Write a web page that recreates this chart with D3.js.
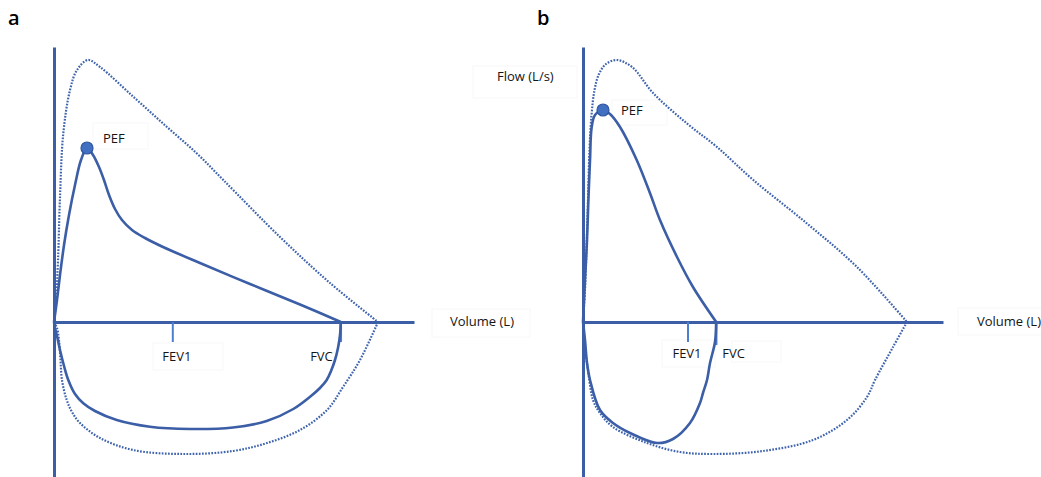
<!DOCTYPE html>
<html>
<head>
<meta charset="utf-8">
<script src="https://cdn.jsdelivr.net/npm/d3@7"></script>
<style>
  html, body { margin: 0; padding: 0; background: #ffffff; }
  svg { display: block; font-family: "Open Sans", "Noto Sans", sans-serif; }
</style>
</head>
<body>
<svg id="chart" width="1041" height="477"></svg>
<script>
// Flow-volume loops, points are [volume (L), flow (L/s)].
// Expiration runs above the volume axis, inspiration below it.

// Panel a: measured loop
const measuredExpA = [[0,0],[0.05,0.88],[0.1,1.88],[0.167,3.08],[0.25,4.28],[0.35,5.48],[0.45,6.48],[0.55,6.96],
  [0.65,6.68],[0.75,6.2],[0.833,5.68],[0.917,5.08],[1.017,4.52],[1.133,4.08],[1.3,3.68],[1.517,3.36],[1.817,3.0],
  [2.433,2.36],[3.267,1.52],[4.1,0.7],[4.78,0]];
const measuredInspA = [[4.78,0],[4.767,-0.52],[4.733,-1.04],[4.683,-1.52],[4.617,-1.96],[4.545,-2.32],[4.433,-2.64],
  [4.283,-2.96],[3.988,-3.48],[3.545,-3.96],[2.983,-4.22],[2.267,-4.28],[1.6,-4.19],[1.045,-3.92],[0.683,-3.56],
  [0.488,-3.25],[0.35,-2.88],[0.238,-2.32],[0.167,-1.76],[0.1,-1.12],[0.05,-0.56],[0.017,-0.24],[0,0]];
// Panel a: predicted loop
const predictedExpA = [[0,0],[0.033,0.88],[0.067,2.48],[0.1,5.0],[0.155,7.55],[0.267,9.28],[0.383,10.08],[0.567,10.48],
  [0.767,10.2],[1.322,9.01],[1.878,7.81],[2.378,6.75],[2.822,5.68],[3.767,3.4],[4.6,1.56],[5.4,0]];
const predictedInspA = [[5.4,0],[5.1,-1.52],[4.817,-2.6],[4.55,-3.52],[4.1,-4.32],[3.55,-4.84],[2.983,-5.16],[2.15,-5.28],
  [1.317,-5.12],[0.767,-4.64],[0.433,-4.04],[0.3,-3.6],[0.212,-3.12],[0.133,-2.32],[0.108,-1.52],[0.083,-0.72],
  [0.05,-0.24],[0,0]];
const pefA = [0.55, 6.96];
const fev1A = 1.98;
const fvcA = 4.78;

// Panel b: measured loop
const measuredExpB = [[0,0],[0.033,1.68],[0.067,3.28],[0.09,4.88],[0.117,6.48],[0.145,7.8],[0.2,8.28],[0.333,8.48],
  [0.45,8.32],[0.617,7.8],[0.895,6.48],[1.117,5.15],[1.283,4.08],[1.567,2.6],[1.833,1.4],[2.22,0]];
const measuredInspB = [[2.22,0],[2.2,-0.8],[2.117,-1.64],[2.067,-2.32],[2.0,-2.84],[1.95,-3.24],[1.783,-4.04],[1.5,-4.68],
  [1.233,-4.84],[0.783,-4.44],[0.5,-4.04],[0.283,-3.52],[0.117,-2.32],[0.067,-1.64],[0.033,-0.72],[0,0]];
// Panel b: predicted loop
const predictedExpB = [[0,0],[0.033,1.28],[0.058,2.88],[0.083,4.88],[0.108,6.88],[0.142,8.28],[0.192,9.28],[0.267,9.92],
  [0.383,10.32],[0.562,10.48],[0.817,10.2],[1.172,9.15],[1.728,7.95],[2.228,7.01],[2.838,5.68],[3.728,3.95],
  [4.562,2.21],[5.4,0]];
const predictedInspB = [[5.4,0],[5.167,-1.0],[4.867,-2.32],[4.733,-3.0],[4.4,-3.92],[3.833,-4.72],[3.0,-5.16],[2.167,-5.28],
  [1.617,-5.2],[1.067,-4.84],[0.5,-4.2],[0.283,-3.64],[0.167,-3.12],[0.083,-1.92],[0.017,-0.72],[0,0]];
const pefB = [0.333, 8.48];
const fev1B = 1.75;
const fvcB = 2.22;

const panelLetters = ["a", "b"];
const volumeDomain = [0, 6];
const flowDomain = [-6.2, 11];
const axisTitles = { volume: "Volume (L)", flow: "Flow (L/s)" };
const markerNames = { pef: "PEF", fev1: "FEV1", fvc: "FVC" };

// ---- styling ----
const lineBlue = "#3b5ea6";
const dotBlue = "#3f64ad";
const tickBlue = "#4d7fd0";
const textColor = "#151515";
const boxStroke = "#f8f8f8";
const labelSize = 13;

const svg = d3.select("#chart");
const y = d3.scaleLinear().domain(flowDomain).range([477, 47]);

const panels = [
  {
    letter: panelLetters[0], left: 54, letterX: 8, letterY: 25,
    mExp: measuredExpA, mInsp: measuredInspA, pExp: predictedExpA, pInsp: predictedInspA,
    pef: pefA, fev1: fev1A, fvc: fvcA,
    pefLabel: { dx: 16, dy: -5 },
    fev1Label: { dx: 4, y: 361, anchor: "middle" },
    fvcLabel: { dx: -8, y: 361, anchor: "end" },
    fvcTickLen: 20,
    volX: 450,
    boxes: [[93,123,55,26],[153,343,70,27],[432,309,98,28]]
  },
  {
    letter: panelLetters[1], left: 583, letterX: 537, letterY: 25,
    mExp: measuredExpB, mInsp: measuredInspB, pExp: predictedExpB, pInsp: predictedInspB,
    pef: pefB, fev1: fev1B, fvc: fvcB,
    pefLabel: { dx: 18, dy: 5 },
    fev1Label: { dx: -1, y: 358, anchor: "middle" },
    fvcLabel: { dx: 6, y: 358, anchor: "start" },
    fvcTickLen: 23,
    volX: 977,
    boxes: [[612,100,55,25],[662,340,53,27],[732,341,49,21],[958,308,90,27],[473,66,104,32]]
  }
];

const line = (x) => d3.line()
  .x(d => x(d[0]))
  .y(d => y(d[1]))
  .curve(d3.curveCatmullRom.alpha(0.5));

panels.forEach(p => {
  const x = d3.scaleLinear().domain(volumeDomain).range([p.left, p.left + 360]);
  const g = svg.append("g");

  // faint text frames
  g.selectAll("rect.frame").data(p.boxes).join("rect")
    .attr("class", "frame")
    .attr("x", d => d[0]).attr("y", d => d[1])
    .attr("width", d => d[2]).attr("height", d => d[3])
    .attr("fill", "none").attr("stroke", boxStroke).attr("stroke-width", 1);

  // axes: plain lines through the origin
  const xAxis = g.append("g")
    .attr("transform", `translate(0,${y(0)})`)
    .call(d3.axisBottom(x).tickValues([]).tickSizeOuter(0));
  const yAxis = g.append("g")
    .attr("transform", `translate(${x(0)},0)`)
    .call(d3.axisLeft(y).tickValues([]).tickSizeOuter(0));
  [xAxis, yAxis].forEach(a => a.select(".domain")
    .attr("stroke", lineBlue).attr("stroke-width", 3));

  // FEV1 / FVC markers on the volume axis
  g.append("line")
    .attr("x1", x(p.fev1)).attr("x2", x(p.fev1))
    .attr("y1", y(0)).attr("y2", y(0) + 20)
    .attr("stroke", tickBlue).attr("stroke-width", 2);
  g.append("line")
    .attr("x1", x(p.fvc)).attr("x2", x(p.fvc))
    .attr("y1", y(0)).attr("y2", y(0) + p.fvcTickLen)
    .attr("stroke", tickBlue).attr("stroke-width", 2.5);

  // predicted loop (dotted)
  [p.pExp, p.pInsp].forEach(seg => {
    g.append("path").datum(seg)
      .attr("d", line(x))
      .attr("fill", "none")
      .attr("stroke", dotBlue)
      .attr("stroke-width", 2.2)
      .attr("stroke-dasharray", "1.7 1.4");
  });

  // measured loop (solid)
  [p.mExp, p.mInsp].forEach(seg => {
    g.append("path").datum(seg)
      .attr("d", line(x))
      .attr("fill", "none")
      .attr("stroke", lineBlue)
      .attr("stroke-width", 2.6)
      .attr("stroke-linejoin", "round");
  });

  // peak expiratory flow
  g.append("circle")
    .attr("cx", x(p.pef[0])).attr("cy", y(p.pef[1])).attr("r", 6)
    .attr("fill", "#4170c2").attr("stroke", "#2f559f").attr("stroke-width", 1.2);

  // labels
  g.append("text")
    .attr("x", x(p.pef[0]) + p.pefLabel.dx).attr("y", y(p.pef[1]) + p.pefLabel.dy)
    .attr("font-size", labelSize).attr("fill", textColor)
    .text(markerNames.pef);
  g.append("text")
    .attr("x", x(p.fev1) + p.fev1Label.dx).attr("y", p.fev1Label.y)
    .attr("text-anchor", p.fev1Label.anchor)
    .attr("font-size", labelSize).attr("fill", textColor)
    .text(markerNames.fev1);
  g.append("text")
    .attr("x", x(p.fvc) + p.fvcLabel.dx).attr("y", p.fvcLabel.y)
    .attr("text-anchor", p.fvcLabel.anchor)
    .attr("font-size", labelSize).attr("fill", textColor)
    .text(markerNames.fvc);
  g.append("text")
    .attr("x", p.volX).attr("y", 326)
    .attr("font-size", labelSize).attr("fill", textColor)
    .text(axisTitles.volume);
  g.append("text")
    .attr("x", p.letterX).attr("y", p.letterY)
    .attr("font-size", 20).attr("font-weight", 600).attr("fill", "#000")
    .text(p.letter);
});

// flow axis title
svg.append("text")
  .attr("x", 497).attr("y", 81)
  .attr("font-size", labelSize).attr("fill", textColor)
  .text(axisTitles.flow);
</script>
</body>
</html>
